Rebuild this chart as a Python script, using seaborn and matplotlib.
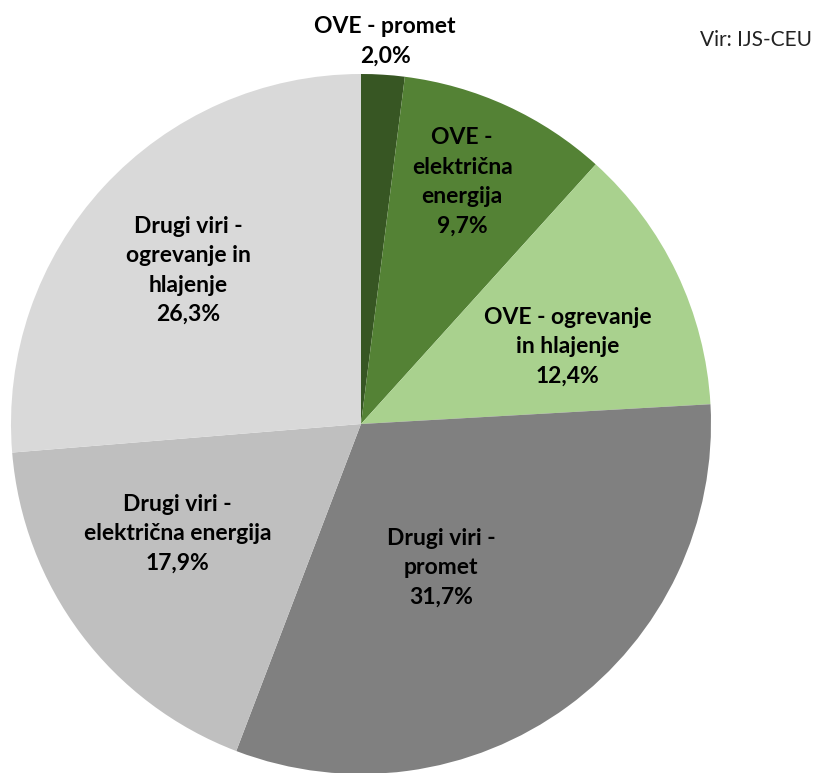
import matplotlib.pyplot as plt
import numpy as np
import seaborn as sns

sns.set_theme(style='white')
plt.rcParams['font.family'] = ['Lato', 'DejaVu Sans']

labels = ['OVE - promet', 'OVE -\nelektrična\nenergija', 'OVE - ogrevanje\nin hlajenje',
          'Drugi viri -\npromet', 'Drugi viri -\nelektrična energija',
          'Drugi viri -\nogrevanje in\nhlajenje']
shares = [2.0, 9.7, 12.4, 31.7, 17.9, 26.3]
colors = ['#375623', '#548235', '#A9D18E', '#808080', '#BFBFBF', '#D9D9D9']
# radial distance of each label from the centre (pie radius = 1)
label_dist = [1.095, 0.75, 0.63, 0.47, 0.61, 0.66]
# small angular nudges (degrees) to match the original label placement
label_nudge = [0, 2, -5, -7, -6, 1]

fig = plt.figure(figsize=(8.2, 7.73), dpi=100)
ax = fig.add_axes([11 / 820, -1 / 773, 700 / 820, 700 / 773])

wedges, _ = ax.pie(shares, colors=colors, startangle=90, counterclock=False,
                   radius=1, wedgeprops=dict(linewidth=0))

for w, lab, val, d, nd in zip(wedges, labels, shares, label_dist, label_nudge):
    ang = np.deg2rad((w.theta1 + w.theta2) / 2 + nd)
    txt = lab + '\n' + f'{val:.1f}%'.replace('.', ',')
    ax.text(d * np.cos(ang), d * np.sin(ang), txt, ha='center', va='center',
            fontsize=16.5, fontweight='bold', color='black', linespacing=1.5)

ax.set_xlim(-1, 1)
ax.set_ylim(-1, 1)
ax.set_aspect('equal')
ax.axis('off')

fig.text(812 / 820, 1 - 40 / 773, 'Vir: IJS-CEU', ha='right', va='center',
         fontsize=15, color='#222222')

fig.savefig('out.png', dpi=100)
